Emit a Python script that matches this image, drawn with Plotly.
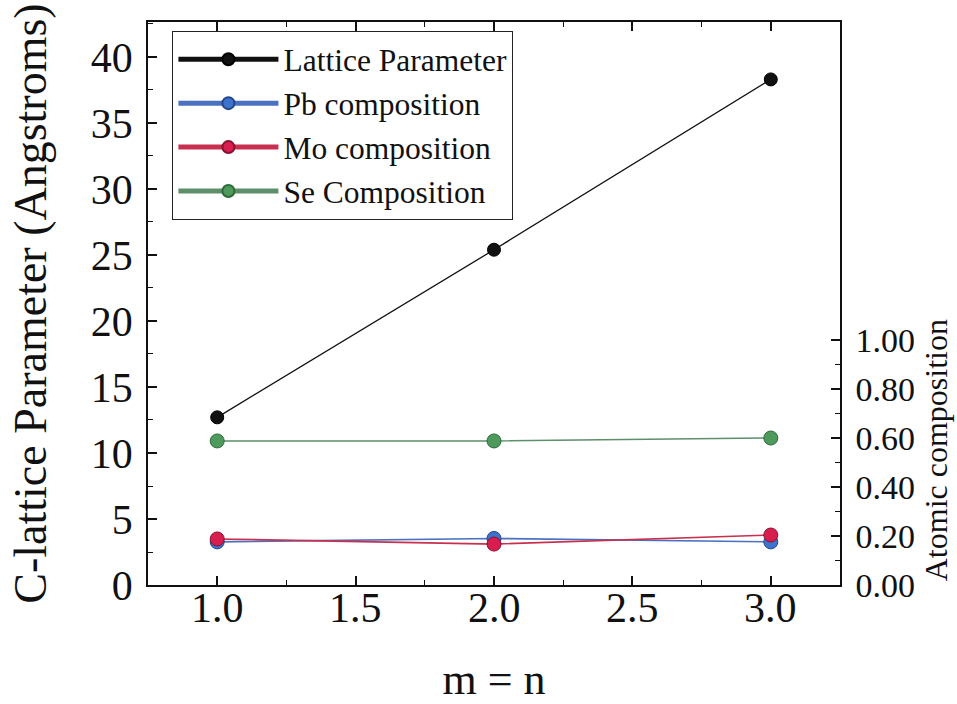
import plotly.graph_objects as go

# m = n values
m_values = [1.0, 2.0, 3.0]

# c-lattice parameter (Angstroms), left axis
lattice = [12.7, 25.4, 38.3]

# atomic composition fractions, right axis
pb_comp = [0.176, 0.190, 0.176]
mo_comp = [0.188, 0.167, 0.204]
se_comp = [0.588, 0.588, 0.600]

x_ticks = [1.0, 1.5, 2.0, 2.5, 3.0]
x_ticktext = [f"{v:.1f}" for v in x_ticks]

right_ticks = [0.0, 0.2, 0.4, 0.6, 0.8, 1.0]
right_ticktext = [f"{v:.2f}" for v in right_ticks]

FONT = "Liberation Serif"
INK = "#111111"

fig = go.Figure()

fig.add_trace(go.Scatter(
    x=m_values, y=lattice, name="Lattice Parameter",
    mode="lines+markers",
    line=dict(color=INK, width=1.3),
    marker=dict(size=13, color=INK, line=dict(color="#000000", width=1)),
    yaxis="y",
))
fig.add_trace(go.Scatter(
    x=m_values, y=pb_comp, name="Pb composition",
    mode="lines+markers",
    line=dict(color="#4a72c0", width=1.6),
    marker=dict(size=14, color="#3d73cc", line=dict(color="#24468a", width=1)),
    yaxis="y2",
))
fig.add_trace(go.Scatter(
    x=m_values, y=mo_comp, name="Mo composition",
    mode="lines+markers",
    line=dict(color="#c8304f", width=1.6),
    marker=dict(size=14, color="#d81e4e", line=dict(color="#8a1030", width=1)),
    yaxis="y2",
))
fig.add_trace(go.Scatter(
    x=m_values, y=se_comp, name="Se Composition",
    mode="lines+markers",
    line=dict(color="#5c8f6a", width=1.6),
    marker=dict(size=14, color="#4e9a5c", line=dict(color="#2e6a3a", width=1)),
    yaxis="y2",
))

# x tick labels set close under the axis line
for v, t in zip(x_ticks, x_ticktext):
    fig.add_annotation(
        text=t, xref="x", x=v, xanchor="center",
        yref="paper", y=0, yanchor="top", yshift=2,
        showarrow=False, font=dict(family=FONT, size=42, color=INK),
    )

# right-axis title, centred on the 0-1 composition scale
fig.add_annotation(
    text="Atomic composition",
    xref="paper", x=1, xshift=96, xanchor="center",
    yref="y2", y=0.55, yanchor="middle",
    textangle=-90, showarrow=False,
    font=dict(family=FONT, size=32, color=INK),
)

fig.update_layout(
    width=957, height=704,
    margin=dict(l=148, r=117, t=22, b=119),
    paper_bgcolor="white",
    plot_bgcolor="white",
    font=dict(family=FONT, color=INK),
    showlegend=True,
    legend=dict(
        x=0.035, y=0.984, xanchor="left", yanchor="top",
        bgcolor="white", bordercolor="#222222", borderwidth=1.2,
        font=dict(family=FONT, size=31.5, color=INK),
        itemsizing="constant", itemwidth=100, tracegroupgap=0,
    ),
    xaxis=dict(
        range=[0.75, 3.25],
        tickvals=x_ticks, showticklabels=False,
        ticks="inside", ticklen=9, tickwidth=1.5, tickcolor=INK,
        minor=dict(ticks="inside", ticklen=5, dtick=0.25, tickcolor=INK, tickwidth=1.2),
        showline=True, linecolor=INK, linewidth=1.6, mirror="ticks",
        showgrid=False, zeroline=False, automargin=False,
        title=dict(text="m = n", font=dict(family=FONT, size=44, color=INK), standoff=80),
    ),
    yaxis=dict(
        range=[0, 42.65],
        tickvals=[0, 5, 10, 15, 20, 25, 30, 35, 40],
        ticks="inside", ticklen=9, tickwidth=1.5, tickcolor=INK,
        ticklabelstandoff=5,
        minor=dict(ticks="inside", ticklen=5, dtick=2.5, tickcolor=INK, tickwidth=1.2),
        showline=True, linecolor=INK, linewidth=1.6,
        showgrid=False, zeroline=False, automargin=False,
        tickfont=dict(family=FONT, size=42, color=INK),
        title=dict(text="C-lattice Parameter (Angstroms)",
                   font=dict(family=FONT, size=46, color=INK), standoff=30),
    ),
    yaxis2=dict(
        overlaying="y", side="right",
        range=[0, 2.298],
        tickvals=right_ticks, ticktext=right_ticktext,
        ticks="inside", ticklen=9, tickwidth=1.5, tickcolor=INK,
        ticklabelstandoff=7,
        minor=dict(ticks="inside", ticklen=5, tickvals=[0.1, 0.3, 0.5, 0.7, 0.9],
                   tickcolor=INK, tickwidth=1.2),
        showline=True, linecolor=INK, linewidth=1.6,
        showgrid=False, zeroline=False, automargin=False,
        tickfont=dict(family=FONT, size=34, color=INK),
    ),
)

fig.write_html("out.html")
